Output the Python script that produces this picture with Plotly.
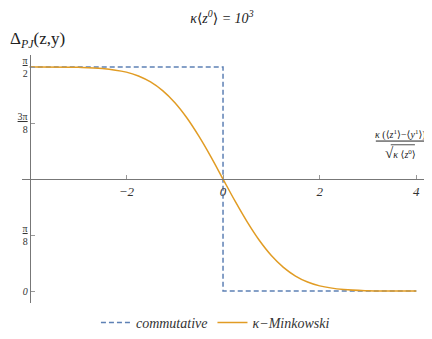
import plotly.graph_objects as go

# step curve (commutative case)
x_comm = [-4, 0, 0, 4]
y_comm = [1.5708, 1.5708, 0.0, 0.0]

# smooth curve (kappa-Minkowski)
x_kappa = [-4, -3, -2.5, -2, -1.75, -1.5, -1.25, -1, -0.75, -0.5, -0.25, 0,
           0.25, 0.5, 0.75, 1, 1.25, 1.5, 1.75, 2, 2.5, 3, 4]
y_kappa = [1.5707, 1.5687, 1.561, 1.535, 1.508, 1.466, 1.405, 1.322, 1.215, 1.086, 0.941, 0.785,
           0.630, 0.485, 0.356, 0.249, 0.166, 0.105, 0.063, 0.036, 0.010, 0.002, 0.0]

xtick_vals = [-2, 0, 2, 4]
xtick_text = ["<i>−2</i>", "<i>0</i>", "<i>2</i>", "<i>4</i>"]
ytick_vals = [1.5708, 1.1781, 0.3927, 0.0]
ytick_text = ["<u>π</u><br>2", "<u>3π</u><br>8", "<u>π</u><br>8", "<i>0</i>"]

serif = "Liberation Serif"
LA = "<span style='font-family:DejaVu Serif;font-style:normal'>⟨</span>"
RA = "<span style='font-family:DejaVu Serif;font-style:normal'>⟩</span>"

fig = go.Figure()
fig.add_trace(go.Scatter(x=x_comm, y=y_comm, mode="lines", name="<i>commutative</i>",
                         line=dict(color="#5E81B5", width=1.5, dash="5px,3px")))
fig.add_trace(go.Scatter(x=x_kappa, y=y_kappa, mode="lines", name="<i>κ−Minkowski</i>",
                         line=dict(color="#E19C24", width=1.5, shape="spline")))

# page body adds an 8px offset, margins are set to compensate
fig.update_layout(
    width=432, height=339,
    margin=dict(l=14, r=15, t=47, b=44, autoexpand=False),
    plot_bgcolor="white", paper_bgcolor="white",
    font=dict(family=serif, color="#333", size=12),
    title=dict(text=f"<i>κ{LA}z<sup>0</sup>{RA} = 10<sup>3</sup></i>", x=0.495, xanchor="center",
               y=0.97, yanchor="middle", font=dict(family=serif, size=14, color="#222")),
    showlegend=True,
    legend=dict(orientation="h", x=0.48, xanchor="center", y=-0.08, yanchor="middle",
                font=dict(family=serif, size=14, color="#333"), itemwidth=30),
    xaxis=dict(range=[-4.16, 4.18], anchor="free", position=0.5,
               showline=True, linecolor="#777", linewidth=1,
               ticks="inside", ticklen=4, tickcolor="#999",
               tickvals=xtick_vals, ticktext=xtick_text,
               tickfont=dict(family=serif, size=13, color="#333"),
               showgrid=False, zeroline=False),
    yaxis=dict(range=[-0.084, 1.655], anchor="free", position=0.019,
               showline=True, linecolor="#777", linewidth=1,
               ticks="inside", ticklen=4, tickcolor="#999",
               tickvals=ytick_vals, ticktext=ytick_text,
               tickfont=dict(family=serif, size=10, color="#333"),
               showgrid=False, zeroline=False),
)

fig.add_annotation(xref="paper", yref="paper", x=-0.035, y=1.06, xanchor="left", yanchor="middle",
                   showarrow=False, text="Δ<sub><i>PJ</i></sub>(z,y)",
                   font=dict(family=serif, size=17, color="#222"))

# x axis label as a stacked fraction
fig.add_annotation(xref="paper", yref="paper", x=0.938, y=0.68, xanchor="center", yanchor="middle",
                   showarrow=False,
                   text=f"<i>κ</i> ({LA}<i>z</i><sup>1</sup>{RA}−{LA}<i>y</i><sup>1</sup>{RA})",
                   font=dict(family=serif, size=10, color="#222"))
fig.add_annotation(xref="paper", yref="paper", x=0.94, y=0.605, xanchor="center", yanchor="middle",
                   showarrow=False,
                   text=f"<span style='font-size:15px'>√</span><i>κ</i> {LA}<i>z</i><sup>0</sup>{RA}",
                   font=dict(family=serif, size=10, color="#222"))
fig.add_shape(type="line", xref="paper", yref="paper", x0=0.878, x1=0.998, y0=0.653, y1=0.653,
              line=dict(color="#222", width=1))
fig.add_shape(type="line", xref="paper", yref="paper", x0=0.915, x1=0.975, y0=0.638, y1=0.638,
              line=dict(color="#222", width=0.8))

fig.write_html("out.html")
